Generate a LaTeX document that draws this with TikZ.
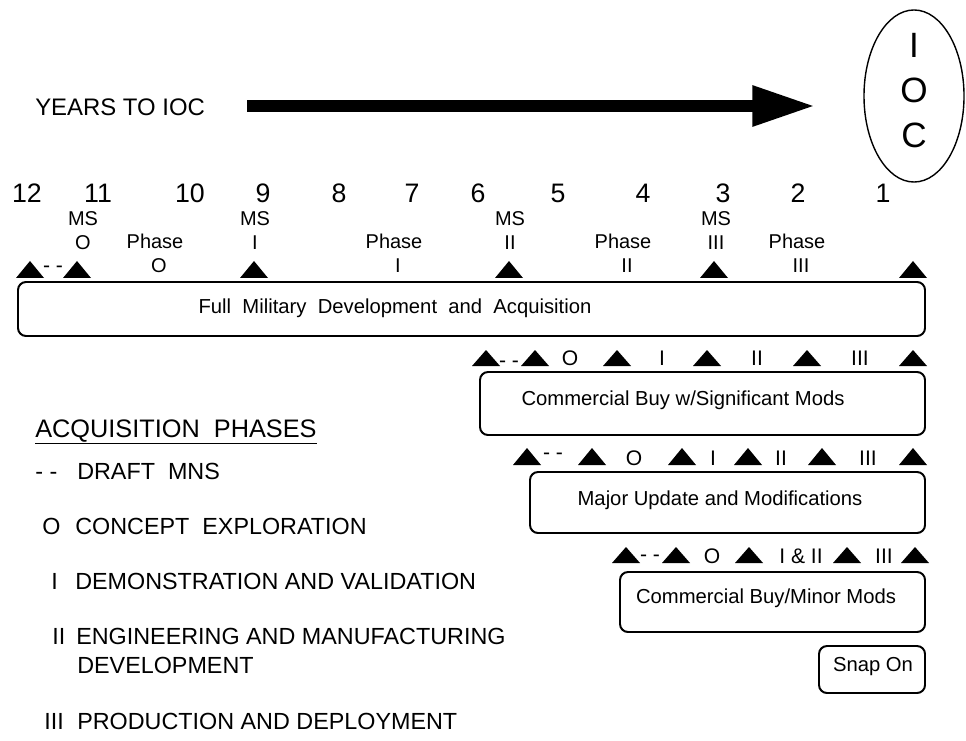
\documentclass[tikz,border=0pt]{standalone}
\usepackage{fontspec}
\setmainfont{Liberation Sans}
\usetikzlibrary{shapes.geometric, arrows.meta, positioning}

\begin{document}
\begin{tikzpicture}[x=0.025cm, y=-0.025cm,
    phasebox/.style={draw, line width=1.4pt, rounded corners=0.2cm},
    boxtext/.style={font=\fontsize{14.4}{17}\selectfont, inner sep=0pt},
    yearnum/.style={font=\fontsize{19}{22}\selectfont, inner sep=0pt, anchor=base},
    toplabel/.style={font=\fontsize{14.2}{17}\selectfont, inner sep=0pt, anchor=base},
    rowlabel/.style={font=\fontsize{15}{18}\selectfont, inner sep=0pt, anchor=base},
    legendhead/.style={font=\fontsize{18}{21}\selectfont, inner sep=0pt, anchor=base west},
    legend/.style={font=\fontsize{16.6}{20}\selectfont, inner sep=0pt, anchor=base west},
    iocring/.style={draw, ellipse, line width=1pt, minimum width=2.5cm, minimum height=4.3cm}
]
\useasboundingbox (0,0) rectangle (966,741);

% Years to IOC
\node[anchor=base west, inner sep=0pt, font=\fontsize{17}{20}\selectfont] (years) at (35,116) {YEARS TO IOC};
\node[iocring] (ring) at (914,96) {};
\node[align=center, inner sep=0pt, font=\fontsize{25}{32}\selectfont] (ioc) at (914,91) {I\\O\\C};
\coordinate (shaft) at (247,106);
\draw[line width=0.3cm, -{Triangle[length=1.575cm, width=0.95cm]}, shorten >=1.2cm] (shaft) -- (shaft -| ring.west);

% Year numbers
\foreach \x/\n in {27/12, 98/11, 190/10, 263/9, 339/8, 412/7, 478/6, 558/5, 643/4, 723/3, 798/2, 883/1}
    \node[yearnum] (yr\n) at (\x,203) {\n};

% Milestones and phases
\foreach \x/\r/\n in {83/O/0, 255/I/1, 510/II/2, 716/III/3} {
    \node[toplabel] (ms\n) at (\x,226) {MS};
    \node[toplabel] (msnum\n) at (\x,250) {\r};
}
\foreach \x/\r/\n in {155/O/0, 394/I/1, 623/II/2, 797/III/3} {
    \node[toplabel] (ph\n) at (\x,249) {Phase};
    \node[toplabel] (phnum\n) at (\x+4,273) {\r};
}

% Full military
\foreach \x in {30,77,254,509,714,913}
    \fill (\x-14,278) -- (\x+14,278) -- (\x,261) -- cycle;
\node[rowlabel] (fmdash) at (53,273) {- -};
\draw[phasebox] (18,282) rectangle (925,336);
\node[boxtext] (fullmil) at (395,308) {Full\ \ Military\ \ Development\ \ and\ \ Acquisition};

% Commercial buy w/significant mods
\foreach \x in {486,535,617,707,807,913}
    \fill (\x-14,366) -- (\x+14,366) -- (\x,350) -- cycle;
\node[rowlabel] (csmdash) at (509,367) {- -};
\foreach \x/\t/\n in {570/O/o, 662/I/i, 757/II/ii, 860/III/iii}
    \node[rowlabel] (csm\n) at (\x,365) {\t};
\draw[phasebox] (480,372) rectangle (925,435);
\node[boxtext] (csm) at (683,400) {Commercial Buy w/Significant Mods};

% Major update
\foreach \x in {527,592,682,748,822,913}
    \fill (\x-14,465) -- (\x+14,465) -- (\x,448) -- cycle;
\node[rowlabel] (mudash) at (553,459) {- -};
\foreach \x/\t/\n in {634/O/o, 713/I/i, 781/II/ii, 868/III/iii}
    \node[rowlabel] (mu\n) at (\x,465) {\t};
\draw[phasebox] (530,472) rectangle (925,533);
\node[boxtext] (mu) at (720,500) {Major Update and Modifications};

% Commercial buy/minor mods
\foreach \x in {626,676,749,847,915}
    \fill (\x-14,563) -- (\x+14,563) -- (\x,547) -- cycle;
\node[rowlabel] (cmdash) at (650,561) {- -};
\foreach \x/\t/\n in {712/O/o, 801/I \& II/iii, 884/III/iii}
    \node[rowlabel] (cm\n) at (\x,563) {\t};
\draw[phasebox] (620,572) rectangle (925,632);
\node[boxtext] (cm) at (766,598) {Commercial Buy/Minor Mods};

% Snap on
\draw[phasebox] (819,646) rectangle (925,693);
\node[boxtext] (snap) at (873,667) {Snap On};

% Legend
\node[legendhead] (acq) at (35,437) {\underline{ACQUISITION\ \ PHASES}};
\node[legend] (lgdash) at (35,479) {- -};
\node[legend] (lgdraft) at (77,479) {DRAFT\ \ MNS};
\node[legend] (lgo) at (42,534) {O};
\node[legend] (lgconcept) at (75,534) {CONCEPT\ \ EXPLORATION};
\node[legend] (lgi) at (51,589) {I};
\node[legend] (lgdemo) at (75,589) {DEMONSTRATION AND VALIDATION};
\node[legend] (lgii) at (52,644) {II};
\node[legend] (lgeng) at (76,644) {ENGINEERING AND MANUFACTURING};
\node[legend] (lgdev) at (77,673) {DEVELOPMENT};
\node[legend] (lgiii) at (44,729) {III};
\node[legend] (lgprod) at (77,729) {PRODUCTION AND DEPLOYMENT};

\end{tikzpicture}
\end{document}
